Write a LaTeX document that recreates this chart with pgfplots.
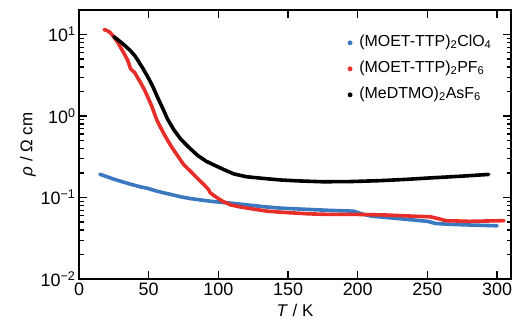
\documentclass[border=0pt]{standalone}
\usepackage{fontspec}
\setmainfont{Liberation Sans}
\usepackage{pgfplots}
\pgfplotsset{compat=1.18}
\definecolor{cblue}{RGB}{58,120,192}
\definecolor{cred}{RGB}{232,46,40}
\begin{document}
\begin{tikzpicture}
\begin{axis}[
  name=ax,
  scale only axis,
  width=432bp, height=269bp,
  xmin=0, xmax=310,
  ymode=log, ymin=0.01, ymax=20,
  xtick={0,50,100,150,200,250,300},
  ytick={0.01,0.1,1,10},
  yticklabels={10\textsuperscript{−2},10\textsuperscript{−1},10\textsuperscript{0},10\textsuperscript{1}},
  /pgf/number format/assume math mode=true,
  tick label style={font=\fontsize{18}{20}\selectfont},
  label style={font=\fontsize{17}{20}\selectfont},
  xlabel={\textit{T} / K},
  ylabel={\textit{ρ} / Ω cm},
  xlabel style={yshift=-4bp, inner sep=1bp},
  ylabel style={yshift=-2bp},
  tick align=inside,
  major tick length=8bp,
  minor tick length=4.5bp,
  axis line style={line width=1.5bp},
  every tick/.style={line width=1.2bp, black},
  tick pos=both,
  xminorticks=false,
  legend style={at={(0.615,0.925)}, anchor=north west, draw=none, fill=none,
    font=\fontsize{16}{18}\selectfont, /tikz/row sep=5bp,
    nodes={text height=12bp, text depth=5bp}},
  legend cell align=left,
  legend image code/.code={\path[draw=none,fill=none] (0bp,0bp) -- (9.5bp,0bp);\draw[mark repeat=1,mark phase=1,#1] plot coordinates {(2.2bp,0bp)};},
]
\addlegendimage{only marks, mark=*, mark size=2.2bp, cblue}
\addlegendentry{(MOET-TTP)\textsubscript{2}ClO\textsubscript{4}}
\addlegendimage{only marks, mark=*, mark size=2.2bp, cred}
\addlegendentry{(MOET-TTP)\textsubscript{2}PF\textsubscript{6}}
\addlegendimage{only marks, mark=*, mark size=2.2bp, black}
\addlegendentry{(MeDTMO)\textsubscript{2}AsF\textsubscript{6}}
\addplot[cblue, line width=3.6bp, line join=round, line cap=round, forget plot] coordinates {
(15,0.193) (20,0.180) (25,0.168) (30,0.158) (35,0.149) (40,0.141) (45,0.134)
(49,0.130) (55,0.121) (60,0.115) (65,0.110) (73,0.102) (80,0.097) (90,0.092)
(97,0.089) (110,0.085) (121,0.081) (133,0.077) (145,0.074) (160,0.072)
(180,0.0695) (197,0.068) (203,0.063) (210,0.059) (220,0.057) (230,0.055)
(240,0.053) (250,0.051) (256,0.048) (265,0.047) (280,0.046) (300,0.045)
};
\addplot[cred, line width=3.6bp, line join=round, line cap=round, forget plot] coordinates {
(18,11.5) (20,11.2) (22,10.7) (25,9.4) (28,7.9) (32,6.0) (35,4.8) (37,3.8)
(40,3.4) (44,2.6) (47,2.1) (52,1.35) (56,0.88) (61,0.60) (66,0.43) (70,0.34)
(75,0.255) (80,0.21) (85,0.172) (90,0.142) (93,0.125) (94,0.115) (97,0.105)
(103,0.090) (109,0.081) (115,0.077) (121,0.074) (135,0.068) (145,0.066)
(165,0.063) (180,0.062) (200,0.062) (220,0.061) (240,0.059) (252,0.058)
(258,0.055) (263,0.052) (280,0.051) (305,0.052)
};
\addplot[black, line width=3.6bp, line join=round, line cap=round, forget plot] coordinates {
(25,9.4) (28,8.6) (33,7.3) (37,6.3) (40,5.5) (42,4.9) (46,3.8) (49,3.1)
(53,2.3) (56,1.75) (60,1.25) (63.5,0.92) (68,0.68) (73,0.52) (79,0.41)
(85,0.33) (91,0.28) (97,0.25) (104,0.22) (111,0.195) (120,0.18) (133,0.171)
(145,0.164) (157,0.160) (175,0.156) (195,0.157) (216,0.161) (235,0.167)
(252,0.174) (275,0.183) (294,0.192)
};
\end{axis}
\pgfresetboundingbox
\path[use as bounding box] ([shift={(-79bp,-42bp)}]ax.south west) rectangle ([shift={(8bp,10bp)}]ax.north east);
\end{tikzpicture}
\end{document}
